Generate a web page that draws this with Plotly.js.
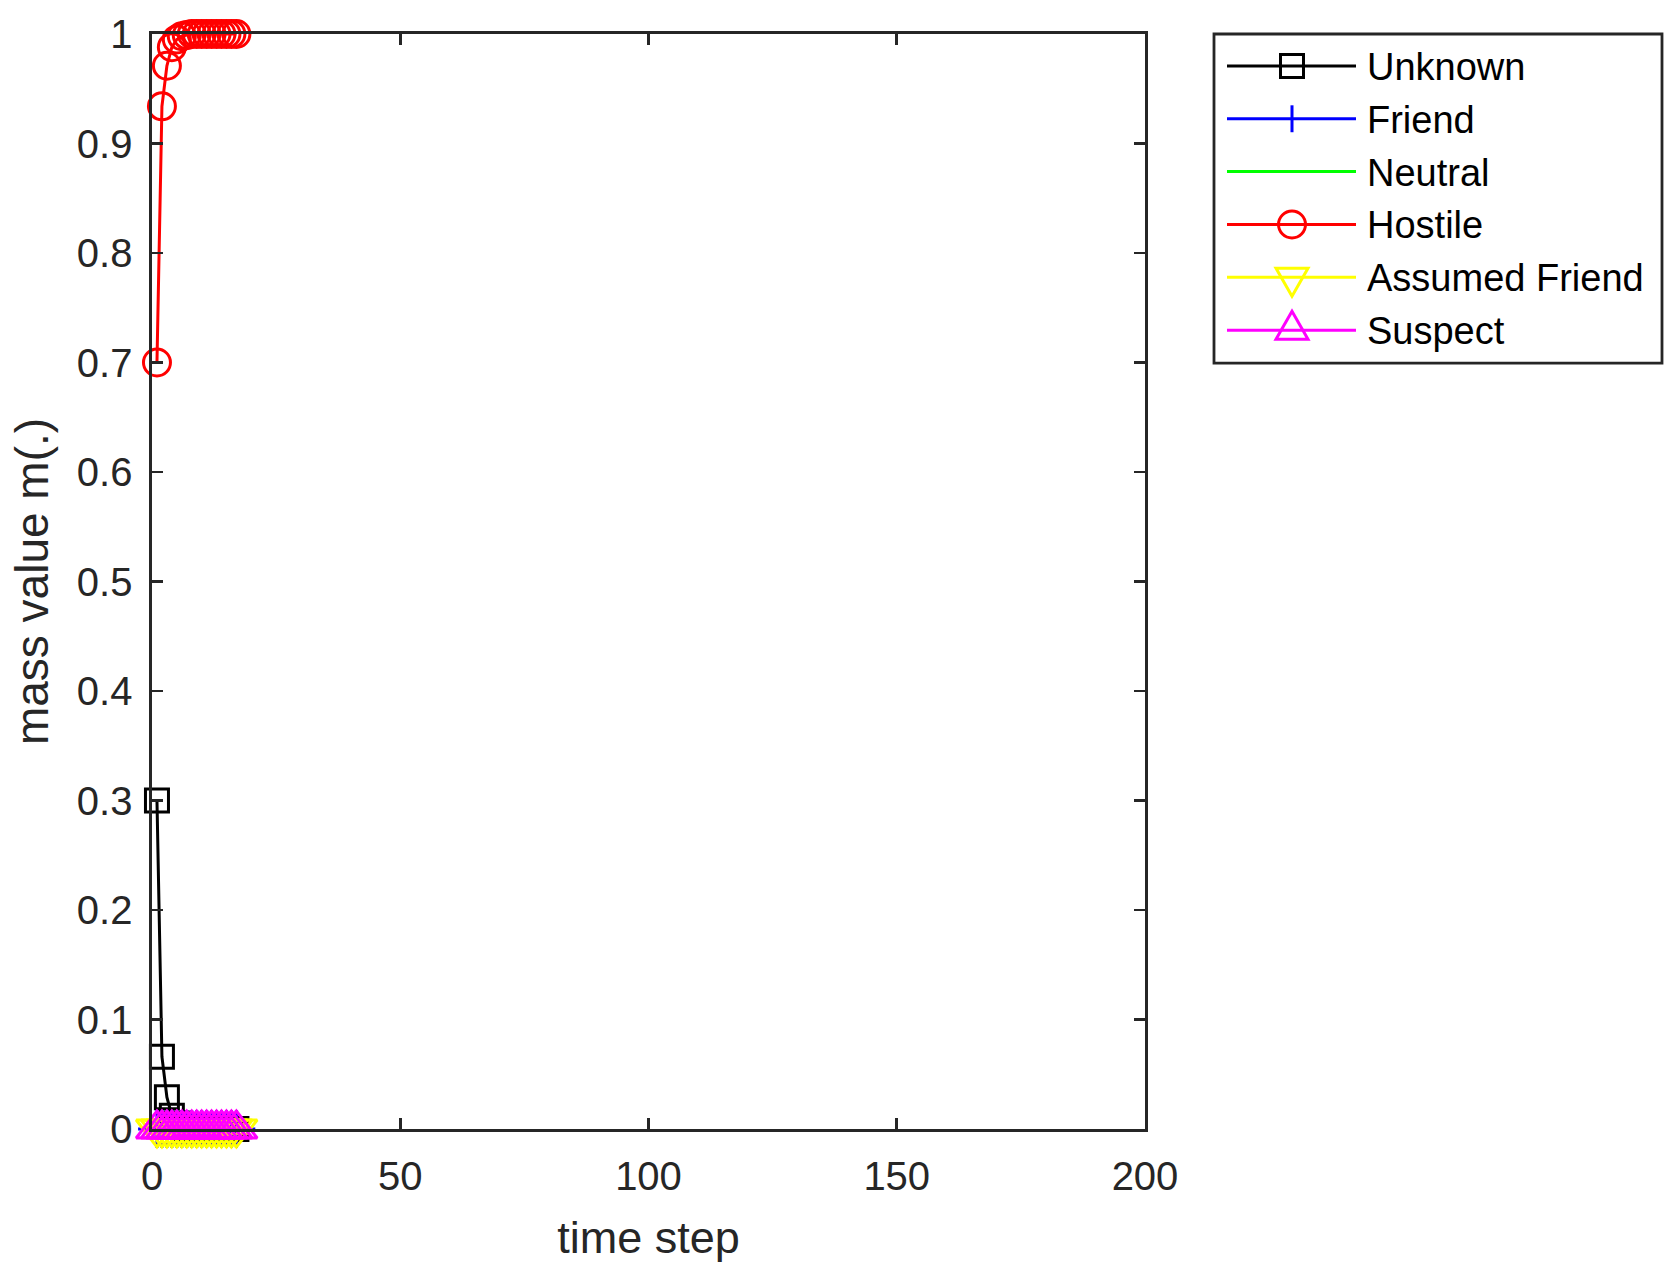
<!DOCTYPE html>
<html>
<head>
<meta charset="utf-8">
<script src="https://cdn.plot.ly/plotly-3.0.1.min.js"></script>
<style>
    body { margin: 0; background: #fff; }
    #chart { width: 1680px; height: 1279px; }
</style>
</head>
<body>
<div id="chart"></div>
<script>
// Data (mass values per time step)
const timeStep = [1, 2, 3, 4, 5, 6, 7, 8, 9, 10, 11, 12, 13, 14, 15, 16, 17];
const unknown = [0.3, 0.066, 0.029, 0.012, 0.005, 0.002, 0.001, 0, 0, 0, 0, 0, 0, 0, 0, 0, 0];
const friend = [0, 0, 0, 0, 0, 0, 0, 0, 0, 0, 0, 0, 0, 0, 0, 0, 0];
const neutral = [0, 0, 0, 0, 0, 0, 0, 0, 0, 0, 0, 0, 0, 0, 0, 0, 0];
const hostile = [0.7, 0.934, 0.971, 0.988, 0.995, 0.998, 0.999, 1, 1, 1, 1, 1, 1, 1, 1, 1, 1];
const assumedFriend = [0, 0, 0, 0, 0, 0, 0, 0, 0, 0, 0, 0, 0, 0, 0, 0, 0];
const suspect = [0, 0, 0, 0, 0, 0, 0, 0, 0, 0, 0, 0, 0, 0, 0, 0, 0];

const seriesNames = ['Unknown', 'Friend', 'Neutral', 'Hostile', 'Assumed Friend', 'Suspect'];
const seriesValues = [unknown, friend, neutral, hostile, assumedFriend, suspect];

const xTicks = [0, 50, 100, 150, 200];
const yTicks = [0, 0.1, 0.2, 0.3, 0.4, 0.5, 0.6, 0.7, 0.8, 0.9, 1];

// Styles (MATLAB-like)
const styles = [
    { color: '#000000', symbol: 'square-open', size: 23, glyph: 'square' },
    { color: '#0000FF', symbol: 'cross-thin-open', size: 27, glyph: 'plus' },
    { color: '#00FF00', symbol: null, size: 0, glyph: null },
    { color: '#FF0000', symbol: 'circle-open', size: 27, glyph: 'circle' },
    { color: '#FFFF00', symbol: 'triangle-down-open', size: 36, glyph: 'tridown' },
    { color: '#FF00FF', symbol: 'triangle-up-open', size: 36, glyph: 'triup' }
];

const FONT = 'Arial, "Liberation Sans", Helvetica, sans-serif';
const AXIS_COLOR = '#262626';
const LW = 3;

// plot area in pixels
const PL = 152, PR = 1145, PT = 31, PB = 1129;
const fx = p => (p - PL) / (PR - PL);
const fy = p => (PB - p) / (PB - PT);

const traces = seriesNames.map((name, i) => {
    const st = styles[i];
    const t = {
        x: timeStep,
        y: seriesValues[i],
        name: name,
        type: 'scatter',
        mode: st.symbol ? 'lines+markers' : 'lines',
        line: { color: st.color, width: LW },
        cliponaxis: false,
        showlegend: false
    };
    if (st.symbol) {
        t.marker = {
            symbol: st.symbol,
            size: st.size,
            color: st.color,
            line: { color: st.color, width: LW }
        };
    }
    return t;
});

// Hand-made legend so the sample lines are as long as MATLAB's
const shapes = [];
const annotations = [];
const legBox = { x0: 1214, x1: 1662, y0: 31, y1: 361 };
shapes.push({
    type: 'rect', xref: 'paper', yref: 'paper',
    x0: fx(legBox.x0), x1: fx(legBox.x1), y0: fy(legBox.y0), y1: fy(legBox.y1),
    line: { color: AXIS_COLOR, width: 2.8 }, fillcolor: 'rgba(255,255,255,0)'
});

function pathFrom(points) {
    return 'M' + points.map(p => fx(p[0]) + ',' + fy(p[1])).join('L') + 'Z';
}

seriesNames.forEach((name, i) => {
    const st = styles[i];
    const ry = 63 + i * 53;
    const lx0 = 1227, lx1 = 1356, cx = 1292;
    shapes.push({
        type: 'line', xref: 'paper', yref: 'paper',
        x0: fx(lx0), x1: fx(lx1), y0: fy(ry), y1: fy(ry),
        line: { color: st.color, width: LW }
    });
    const g = { xref: 'paper', yref: 'paper', line: { color: st.color, width: LW } };
    if (st.glyph === 'square') {
        shapes.push(Object.assign({ type: 'rect', x0: fx(cx - 11.5), x1: fx(cx + 11.5),
            y0: fy(ry - 11.5), y1: fy(ry + 11.5), fillcolor: 'rgba(0,0,0,0)' }, g));
    } else if (st.glyph === 'plus') {
        shapes.push(Object.assign({ type: 'line', x0: fx(cx), x1: fx(cx),
            y0: fy(ry - 13.5), y1: fy(ry + 13.5) }, g));
    } else if (st.glyph === 'circle') {
        shapes.push(Object.assign({ type: 'circle', x0: fx(cx - 13.5), x1: fx(cx + 13.5),
            y0: fy(ry - 13.5), y1: fy(ry + 13.5), fillcolor: 'rgba(0,0,0,0)' }, g));
    } else if (st.glyph === 'tridown') {
        shapes.push(Object.assign({ type: 'path',
            path: pathFrom([[cx - 16, ry - 9], [cx + 16, ry - 9], [cx, ry + 19]]) }, g));
    } else if (st.glyph === 'triup') {
        shapes.push(Object.assign({ type: 'path',
            path: pathFrom([[cx - 16, ry + 9], [cx + 16, ry + 9], [cx, ry - 19]]) }, g));
    }
    annotations.push({
        xref: 'paper', yref: 'paper', x: fx(1365), y: fy(ry + 1),
        xanchor: 'left', yanchor: 'middle', showarrow: false,
        text: name, font: { family: FONT, size: 38, color: '#000000' }
    });
});

const axisCommon = {
    showline: true,
    linecolor: AXIS_COLOR,
    linewidth: 2.6,
    mirror: 'ticks',
    ticks: 'inside',
    ticklen: 11,
    tickwidth: 2.6,
    tickcolor: AXIS_COLOR,
    showgrid: false,
    zeroline: false,
    tickfont: { family: FONT, size: 40, color: AXIS_COLOR }
};

const layout = {
    width: 1680,
    height: 1279,
    margin: { l: PL, r: 1680 - PR, t: PT, b: 1279 - PB },
    paper_bgcolor: '#ffffff',
    plot_bgcolor: '#ffffff',
    showlegend: false,
    xaxis: Object.assign({}, axisCommon, {
        range: [0, 200],
        tickvals: xTicks,
        ticktext: xTicks.map(String),
        ticklabelstandoff: 10,
        title: { text: 'time step', font: { family: FONT, size: 45, color: AXIS_COLOR }, standoff: 25 },
        automargin: true
    }),
    yaxis: Object.assign({}, axisCommon, {
        range: [0, 1],
        tickvals: yTicks,
        ticktext: yTicks.map(String),
        ticklabelstandoff: 9,
        title: { text: 'mass value m(.)', font: { family: FONT, size: 46, color: AXIS_COLOR }, standoff: 14 },
        automargin: true
    }),
    shapes: shapes,
    annotations: annotations
};

Plotly.newPlot('chart', traces, layout, { staticPlot: true });
</script>
</body>
</html>
